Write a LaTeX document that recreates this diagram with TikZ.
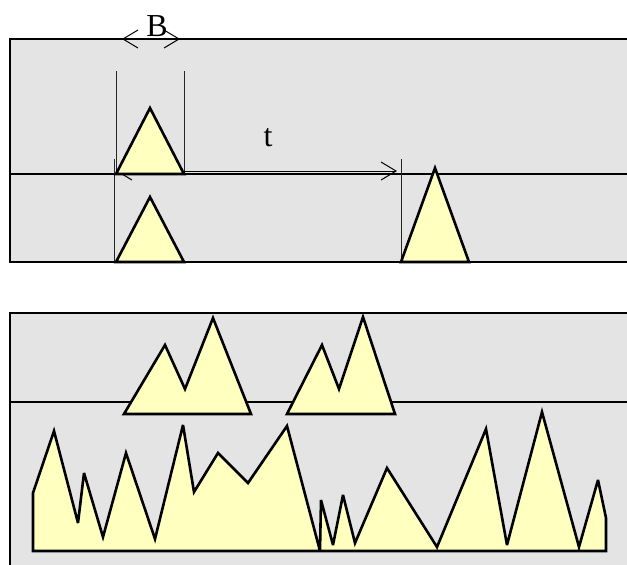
\documentclass[tikz,border=0pt]{standalone}
\usepackage{fontspec}
\setmainfont{Liberation Serif}
\usetikzlibrary{arrows.meta}
\definecolor{panelgray}{RGB}{228,228,228}
\definecolor{peakyellow}{RGB}{255,255,192}
\tikzset{
  panelfill/.style={fill=panelgray,draw=none},
  divider/.style={draw=black,line width=2.4pt},
  peak/.style={fill=peakyellow,draw=black,line width=2.6pt,line join=miter,miter limit=4},
  guide/.style={draw=black!85,line width=1pt},
  dim/.style={draw=black,line width=1pt,{Straight Barb[length=15pt,width=18pt]}-{Straight Barb[length=15pt,width=18pt]}},
  lbl/.style={font=\fontsize{32}{32}\selectfont,inner sep=0pt}
}
\begin{document}
\begin{tikzpicture}[x=1pt,y=-1pt]
\useasboundingbox (0,0) rectangle (627,565);
\clip (0,0) rectangle (627,565);
% top panel
\fill[panelfill] (10,39) rectangle (640,262);
\draw[divider] (640,39) -- (10,39) -- (10,262) -- (640,262);
\draw[divider] (10,174) -- (640,174);
% bottom panel
\fill[panelfill] (10,313) rectangle (640,580);
\draw[divider] (640,313) -- (10,313) -- (10,580);
\draw[divider] (10,402) -- (640,402);
% guides
\coordinate (gL) at (116,71);
\coordinate (gLb) at (116,174);
\coordinate (gR) at (184,71);
\coordinate (gRb) at (184,174);
\draw[guide] (gL) -- (gLb);
\draw[guide] (gR) -- (gRb);
\coordinate (g2t) at (114,159);
\coordinate (g2b) at (114,262);
\draw[guide] (g2t) -- (g2b);
\coordinate (g3t) at (401,159);
\coordinate (g3b) at (401,262);
\draw[guide] (g3t) -- (g3b);
% dimension arrows
\coordinate (bA) at (122,39);
\coordinate (bB) at (180,39);
\draw[dim] (bA) -- (bB);
\coordinate (tA) at (116,171);
\coordinate (tB) at (397,171);
\draw[dim] (tA) -- (tB);
\node[lbl] (B) at (157,26) {B};
\node[lbl] (t) at (268,138) {t};
% top triangles
\draw[peak] (116,174) -- (150,108) -- (184,174) -- cycle;
\draw[peak] (116,262) -- (150,197) -- (184,262) -- cycle;
\draw[peak] (401,262) -- (435,168) -- (469,262) -- cycle;
% bottom double peaks
\draw[peak] (124,414) -- (165,345) -- (185,389) -- (213,318) -- (251,414) -- cycle;
\draw[peak] (287,414) -- (322,345) -- (339,389) -- (363,317) -- (395,414) -- cycle;
% noise
\draw[peak] (33,551) -- (33,493) -- (54,431) -- (78,523) -- (84,473) -- (103,537)
  -- (126,453) -- (155,539) -- (183,425) -- (194,492) -- (218,453) -- (248,483)
  -- (287,426) -- (320,551) -- (321,500) -- (333,545) -- (343,495) -- (355,543)
  -- (387,468) -- (437,547) -- (486,429) -- (507,545) -- (542,412) -- (579,547)
  -- (598,480) -- (606,518) -- (606,551) -- cycle;
\end{tikzpicture}
\end{document}
